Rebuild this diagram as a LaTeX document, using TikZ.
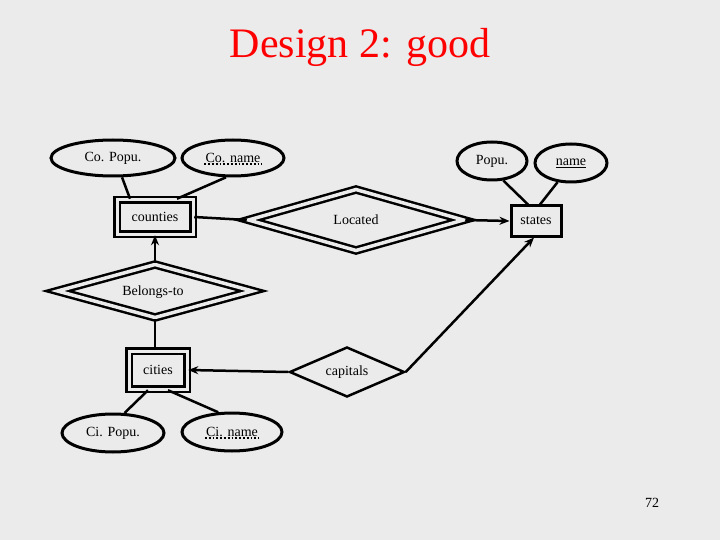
\documentclass[tikz,border=0pt]{standalone}
\usepackage{fontspec}
\setmainfont{Liberation Serif}
\usetikzlibrary{shapes.geometric,arrows.meta}
\definecolor{bg}{HTML}{EBEBEB}
\begin{document}
\begin{tikzpicture}[x=1pt,y=-1pt,
  lab/.style={font=\fontsize{14}{16}\selectfont},
  attr/.style={draw,line width=3pt,ellipse,minimum height=36pt,inner sep=0pt,lab},
  wbox/.style={draw,line width=2.5pt,double=bg,double distance=3pt,inner sep=8pt,lab},
  sbox/.style={draw,line width=3pt,inner sep=6pt,lab},
  rel/.style={draw,diamond,line width=2.5pt,aspect=3.3,inner sep=1pt,lab},
  wrel/.style={rel,double=bg,double distance=3.5pt},
  conn/.style={line width=2.5pt},
  arr/.style={line width=2.5pt,-{Stealth[length=10pt,width=8pt]}},
  key/.style={line width=1.8pt,dotted}]
\fill[bg] (0,0) rectangle (720,540);
\useasboundingbox (0,0) rectangle (720,540);
\node[red,font=\fontsize{42}{46}\selectfont] (title) at (360,47) {Design 2: good};
\node[attr,minimum width=124pt] (copopu) at (113,158) {Co. Popu.};
\node[attr,minimum width=102pt] (coname) at (233,158) {};
\node[lab,inner sep=1pt] (conamet) at (233,158) {Co. name};
\draw[key] (conamet.south west) -- (conamet.south east);
\node[wbox,minimum width=76pt,minimum height=34pt] (counties) at (155,217) {counties};
\node[wrel,minimum width=216pt,minimum height=62pt] (located) at (356,220) {Located};
\node[sbox,minimum width=50pt,minimum height=30pt] (states) at (536,221) {states};
\node[attr,minimum width=70pt,minimum height=38pt] (popu) at (492,161) {Popu.};
\node[attr,minimum width=72pt,minimum height=38pt] (name) at (571,163) {\underline{name}};
\node[wrel,minimum width=196pt,minimum height=54pt] (belongs) at (155,291) {};
\node[lab] (belongst) at (153,292) {Belongs-to};
\node[wbox,minimum width=58pt,minimum height=38pt] (cities) at (158,370) {cities};
\node[rel,minimum width=115pt,minimum height=50pt] (capitals) at (347,372) {capitals};
\node[attr,minimum width=102pt,minimum height=38pt] (cipopu) at (113,433) {Ci. Popu.};
\node[attr,minimum width=100pt,minimum height=38pt] (ciname) at (232,432) {};
\node[lab,inner sep=1pt] (cinamet) at (232,432) {Ci. name};
\draw[key] (cinamet.south west) -- (cinamet.south east);
\node[lab] (num) at (652,503) {72};
% connectors
\draw[conn] ([xshift=2pt]copopu.290) -- ([xshift=-25pt]counties.north);
\draw[conn] (coname.250) -- ([xshift=22pt]counties.north);
\draw[conn] (counties.east) -- (located.west);
\draw[arr] (located.east) -- (states.west);
\draw[conn] (popu.300) -- ([xshift=-8pt]states.north);
\draw[conn] (name.235) -- ([xshift=4pt]states.north);
\draw[arr] (belongs.north) -- (belongs.north |- counties.south);
\draw[conn] (belongs.south) -- (belongs.south |- cities.north);
\draw[arr] (capitals.west) -- (cities.east);
\draw[arr] (capitals.east) -- ([xshift=-2pt]states.south);
\draw[conn] ([xshift=-10pt]cities.south) -- (cipopu.60);
\draw[conn] ([xshift=10pt]cities.south) -- (ciname.125);
\end{tikzpicture}
\end{document}
